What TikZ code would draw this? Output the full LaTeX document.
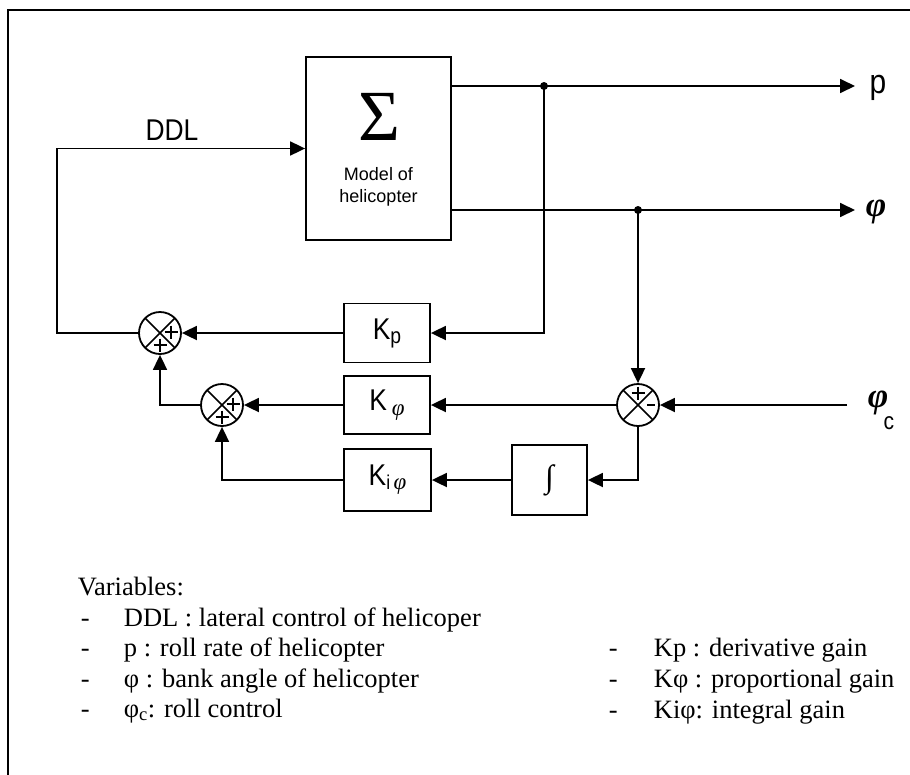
\documentclass[tikz,border=0pt]{standalone}
\usepackage{fontspec}
\setmainfont{Liberation Serif}
\newfontfamily\lab[FakeStretch=0.88]{Liberation Sans}
\newfontfamily\labn{Liberation Sans}
\usetikzlibrary{arrows.meta}
\tikzset{
  arr/.style={-{Triangle[length=15pt,width=14pt]}},
  blk/.style={draw, rectangle, inner sep=0pt, line width=1.8pt},
  sj/.style={draw, circle, minimum size=42pt, inner sep=0pt, line width=1.8pt,
    path picture={\draw[line width=1.5pt] (path picture bounding box.south west) -- (path picture bounding box.north east)
      (path picture bounding box.north west) -- (path picture bounding box.south east);}},
  plus/.pic={\draw[line width=1.6pt] (-6.5,0) -- (6.5,0) (0,-6.5) -- (0,6.5);},
  minus/.pic={\draw[line width=1.6pt] (-4,0) -- (4,0);},
  leg/.style={anchor=base west, inner sep=0pt, font=\fontsize{26.5}{26.5}\selectfont},
}
\begin{document}
\begin{tikzpicture}[x=1pt, y=-1pt, line width=1.8pt]
\useasboundingbox (0,0) rectangle (910,774);
% frame
\draw[line width=1.8pt] (8,780) -- (8,10) -- (920,10);

% model block
\node[blk, minimum width=145pt, minimum height=183pt] (model) at (378.5,148.5) {};
\node[inner sep=0pt, font=\fontsize{72}{72}\selectfont] (sig) at (379,117) {Σ};
\node[align=center, inner sep=0pt, font=\labn\fontsize{18}{22.5}\selectfont] (mtext) at (378.5,187) {Model of\\helicopter};
\node[inner sep=0pt, font=\lab\fontsize{30}{30}\selectfont] (ddl) at (172,130) {DDL};

% junctions
\node[sj] (j1) at (160,333) {};
\node[sj] (j2) at (222,405) {};
\node[sj] (j3) at (638,405) {};
\pic at ([shift={(11pt,1pt)}]j1.center) {plus};
\pic at ([shift={(0pt,-12pt)}]j1.center) {plus};
\pic at ([shift={(11pt,1pt)}]j2.center) {plus};
\pic at ([shift={(0pt,-12pt)}]j2.center) {plus};
\pic at ([shift={(0pt,12pt)}]j3.center) {plus};
\pic at ([shift={(13pt,0pt)}]j3.center) {minus};

% gain blocks
\node[blk, minimum width=86pt, minimum height=59pt] (kp) at (387,333) {\lab\fontsize{30}{30}\selectfont K\raisebox{-4pt}{\fontsize{22}{22}\selectfont p}};
\node[blk, minimum width=86pt, minimum height=58pt] (kphi) at (387,405) {\lab\fontsize{30}{30}\selectfont K\,\raisebox{-5pt}{\fontsize{23}{23}\selectfont\rmfamily\itshape φ}};
\node[blk, minimum width=87pt, minimum height=62pt] (kiphi) at (387.5,480) {\lab\fontsize{30}{30}\selectfont K\raisebox{-4pt}{\fontsize{20}{20}\selectfont i\,{\rmfamily\itshape\fontsize{23}{23}\selectfont φ}}};
\node[blk, minimum width=75pt, minimum height=70pt] (int) at (549.5,480) {\fontsize{32}{32}\selectfont ∫};

% outputs and inputs
\coordinate (dp) at (544,86);
\coordinate (dphi) at (638,210);
\coordinate (pend) at (855,86);
\coordinate (phiend) at (855,210);
\coordinate (cin) at (847,405);
\coordinate (cl) at (57,333);
\node[inner sep=0pt, font=\lab\fontsize{34}{34}\selectfont] (plab) at (878,88) {p};
\node[inner sep=0pt, font=\fontsize{35}{35}\selectfont\bfseries\itshape] (philab) at (876,212) {φ};
\node[inner sep=0pt, font=\fontsize{35}{35}\selectfont\bfseries\itshape] (phiclab) at (878,403) {φ};
\node[inner sep=0pt, font=\lab\fontsize{24}{24}\selectfont] (clab) at (889,423) {c};

% connectors
\draw[arr] (model.east |- dp) -- (pend);
\draw[arr] (model.east |- dphi) -- (phiend);
\draw[arr] (dp) -- (dp |- kp) -- (kp);
\draw[arr] (dphi) -- (j3);
\draw[arr] (cin) -- (j3);
\draw[arr] (j3) -- (kphi);
\draw[arr] (j3) -- (j3 |- int) -- (int);
\draw[arr] (int) -- (kiphi);
\draw[arr] (kiphi) -- (j2 |- kiphi) -- (j2);
\draw[arr] (kphi) -- (j2);
\draw[arr] (j2) -- (j1 |- j2) -- (j1);
\draw[arr] (kp) -- (j1);
\draw[arr] (j1) -- (cl) -- (cl |- model) -- (model);
\fill (dp) circle (4pt);
\fill (dphi) circle (4pt);

% legend
\node[leg] (vars) at (77,595) {Variables:};
\node[leg] (d1) at (80,626) {-};
\node[leg] (t1) at (123,626) {DDL : lateral control of helicoper};
\node[leg] (d2) at (80,656) {-};
\node[leg] (t2) at (123,656) {p : roll rate of helicopter};
\node[leg] (d3) at (80,687) {-};
\node[leg] (t3) at (123,687) {φ : bank angle of helicopter};
\node[leg] (d4) at (80,717) {-};
\node[leg] (t4) at (123,717) {φ\textsubscript{c}: roll control};
\node[leg] (d5) at (608,656) {-};
\node[leg] (t5) at (653,656) {Kp : derivative gain};
\node[leg] (d6) at (608,687) {-};
\node[leg] (t6) at (653,687) {Kφ : proportional gain};
\node[leg] (d7) at (608,718) {-};
\node[leg] (t7) at (653,718) {Kiφ: integral gain};
\end{tikzpicture}
\end{document}
